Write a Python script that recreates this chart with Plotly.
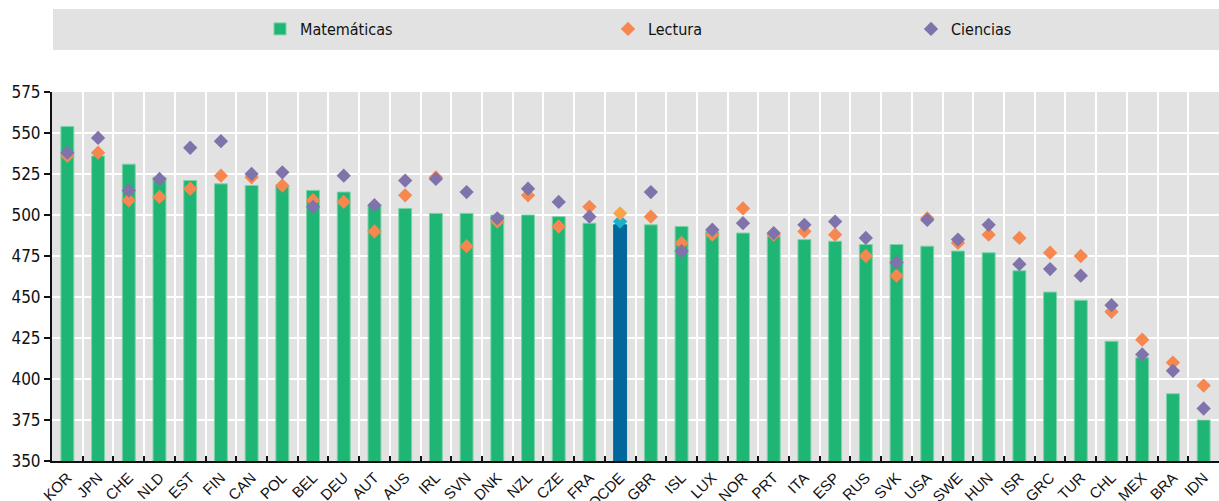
import plotly.graph_objects as go

paises = ["KOR", "JPN", "CHE", "NLD", "EST", "FIN", "CAN", "POL", "BEL", "DEU",
          "AUT", "AUS", "IRL", "SVN", "DNK", "NZL", "CZE", "FRA", "OCDE", "GBR",
          "ISL", "LUX", "NOR", "PRT", "ITA", "ESP", "RUS", "SVK", "USA", "SWE",
          "HUN", "ISR", "GRC", "TUR", "CHL", "MEX", "BRA", "IDN"]
matematicas = [554, 536, 531, 523, 521, 519, 518, 518, 515, 514,
               506, 504, 501, 501, 500, 500, 499, 495, 494, 494,
               493, 490, 489, 487, 485, 484, 482, 482, 481, 478,
               477, 466, 453, 448, 423, 413, 391, 375]
lectura = [536, 538, 509, 511, 516, 524, 523, 518, 509, 508,
           490, 512, 523, 481, 496, 512, 493, 505, 496, 499,
           483, 488, 504, 488, 490, 488, 475, 463, 498, 483,
           488, 486, 477, 475, 441, 424, 410, 396]
ciencias = [538, 547, 515, 522, 541, 545, 525, 526, 505, 524,
            506, 521, 522, 514, 498, 516, 508, 499, 501, 514,
            478, 491, 495, 489, 494, 496, 486, 471, 497, 485,
            494, 470, 467, 463, 445, 415, 405, 382]

VERDE = "#1fb574"
NARANJA = "#f5874f"
MORADO = "#8073ab"
FONDO = "#e1e2e1"
FUENTE = "DejaVu Sans Condensed, Liberation Sans Narrow, Arial Narrow, sans-serif"

es_ocde = [p == "OCDE" for p in paises]
col_bar = ["#02679b" if o else VERDE for o in es_ocde]
col_lin = ["#02679b" if o else "#7dd3a8" for o in es_ocde]
col_lec = ["#17b1c9" if o else NARANJA for o in es_ocde]
col_cie = ["#f9a24c" if o else MORADO for o in es_ocde]

fig = go.Figure()
fig.add_trace(go.Bar(x=paises, y=matematicas, name="Matemáticas", width=0.42,
                     marker=dict(color=col_bar, line=dict(color=col_lin, width=1)),
                     legend="legend", showlegend=True))
fig.add_trace(go.Scatter(x=paises, y=lectura, name="Lectura", mode="markers",
                         marker=dict(symbol="diamond", size=11, color=col_lec),
                         legend="legend2", showlegend=True))
fig.add_trace(go.Scatter(x=paises, y=ciencias, name="Ciencias", mode="markers",
                         marker=dict(symbol="diamond", size=11, color=col_cie),
                         legend="legend3", showlegend=True))

# caja gris de la leyenda
fig.add_shape(type="rect", xref="paper", yref="paper",
              x0=(53 - 52) / 1167, x1=1, y0=(461 - 50) / 369, y1=(461 - 9) / 369,
              fillcolor=FONDO, line=dict(width=0), layer="below")

leg = dict(orientation="h", bgcolor="rgba(0,0,0,0)", xref="container", yref="container",
           yanchor="middle", y=1 - 29 / 501, xanchor="left",
           font=dict(family=FUENTE, size=16, color="#111"))
fig.update_layout(
    showlegend=True,
    legend=dict(leg, x=260 / 1219),
    legend2=dict(leg, x=608 / 1219),
    legend3=dict(leg, x=911 / 1219),
)

fig.update_layout(
    width=1219, height=501,
    margin=dict(l=52, r=0, t=92, b=40),
    paper_bgcolor="white", plot_bgcolor=FONDO,
    font=dict(family=FUENTE, size=16, color="#111"),
    xaxis=dict(type="category", tickangle=-45, tickson="boundaries", ticks="inside",
               ticklen=5, tickwidth=2, tickcolor="#111", automargin=False,
               showgrid=True, gridcolor="white", gridwidth=2,
               showline=True, linecolor="#111", linewidth=2,
               tickfont=dict(family="Liberation Sans, Arial, sans-serif", size=15),
               range=[-0.5, len(paises) - 0.5]),
    yaxis=dict(range=[350, 575], tickvals=list(range(350, 576, 25)),
               ticks="outside", ticklen=6, tickwidth=2, tickcolor="#111",
               automargin=False,
               showgrid=True, gridcolor="white", gridwidth=2,
               showline=True, linecolor="#111", linewidth=2,
               zeroline=False, tickfont=dict(size=17)),
)

fig.write_html("out.html", config={"displayModeBar": False},
               post_script="document.body.style.margin='0';")
